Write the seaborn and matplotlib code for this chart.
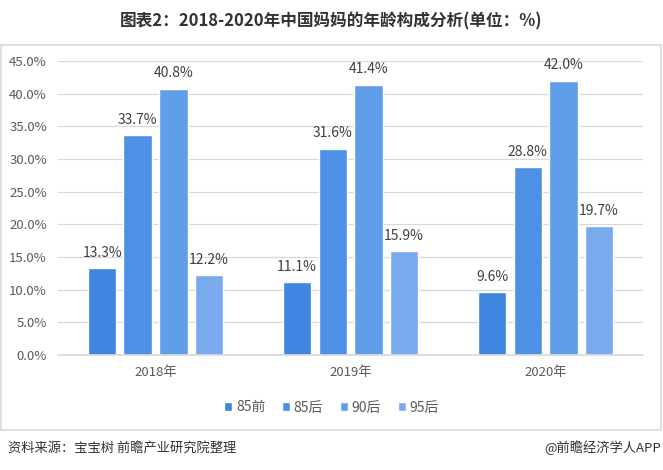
import matplotlib
matplotlib.use("Agg")
import matplotlib.pyplot as plt
import seaborn as sns
import pandas as pd
from matplotlib.patches import Rectangle, Patch
from matplotlib.ticker import FuncFormatter, MultipleLocator

years = ["2018年", "2019年", "2020年"]
groups = ["85前", "85后", "90后", "95后"]
v85q = [13.3, 11.1, 9.6]
v85h = [33.7, 31.6, 28.8]
v90h = [40.8, 41.4, 42.0]
v95h = [12.2, 15.9, 19.7]
colors = ["#3F86E1", "#4E90E6", "#619EEA", "#78AAED"]

rows = []
for g, vals in zip(groups, [v85q, v85h, v90h, v95h]):
    for y, v in zip(years, vals):
        rows.append({"year": y, "group": g, "value": v})
df = pd.DataFrame(rows)

sns.set_theme(style="white")
plt.rcParams["font.family"] = ["Noto Sans CJK SC", "DejaVu Sans"]

fig = plt.figure(figsize=(6.63, 4.70), dpi=100)
ax = fig.add_axes([0.0875, 0.2447, 0.8825, 0.6253])

sns.barplot(data=df, x="year", y="value", hue="group", order=years, hue_order=groups,
            palette=colors, width=0.73, gap=0.2, ax=ax, legend=False, saturation=1)

ax.set_ylim(0, 45)
ax.yaxis.set_major_locator(MultipleLocator(5))
ax.yaxis.set_major_formatter(FuncFormatter(lambda v, p: f"{v:.1f}%"))
ax.grid(axis="y", color="#D9D9D9", linewidth=0.9)
ax.set_axisbelow(True)
for s in ["top", "right", "left"]:
    ax.spines[s].set_visible(False)
ax.spines["bottom"].set_color("#D9D9D9")
ax.set_xlabel("")
ax.set_ylabel("")
ax.tick_params(axis="y", labelsize=9.5, colors="#595959", length=0, pad=8)
ax.tick_params(axis="x", labelsize=9.5, colors="#595959", length=0, pad=8)

for cont in ax.containers:
    ax.bar_label(cont, labels=[f"{b.get_height():.1f}%" for b in cont], padding=6,
                 fontsize=10, color="#404040")

handles = [Patch(facecolor=c, label=g) for c, g in zip(colors, groups)]
fig.legend(handles=handles, loc="center", bbox_to_anchor=(0.5, 0.133), ncol=4, frameon=False,
           fontsize=10, handlelength=0.6, handleheight=0.6, handletextpad=0.25, columnspacing=1.2,
           labelcolor="#595959")

fig.text(0.5, 0.955, "图表2：2018-2020年中国妈妈的年龄构成分析(单位：%)", ha="center", va="center",
         fontsize=12, fontweight="bold", color="#333333")
fig.patches.append(Rectangle((0.0015, 1 - 430 / 470), 0.996, (430 - 45) / 470, transform=fig.transFigure,
                             fill=False, edgecolor="#D9D9D9", linewidth=1.2))
fig.text(0.012, 1 - 448 / 470, "资料来源：宝宝树 前瞻产业研究院整理", ha="left", va="center",
         fontsize=9.5, color="#333333")
fig.text(0.997, 1 - 448 / 470, "@前瞻经济学人APP", ha="right", va="center",
         fontsize=9.5, color="#333333")

fig.savefig("out.png", dpi=100)
